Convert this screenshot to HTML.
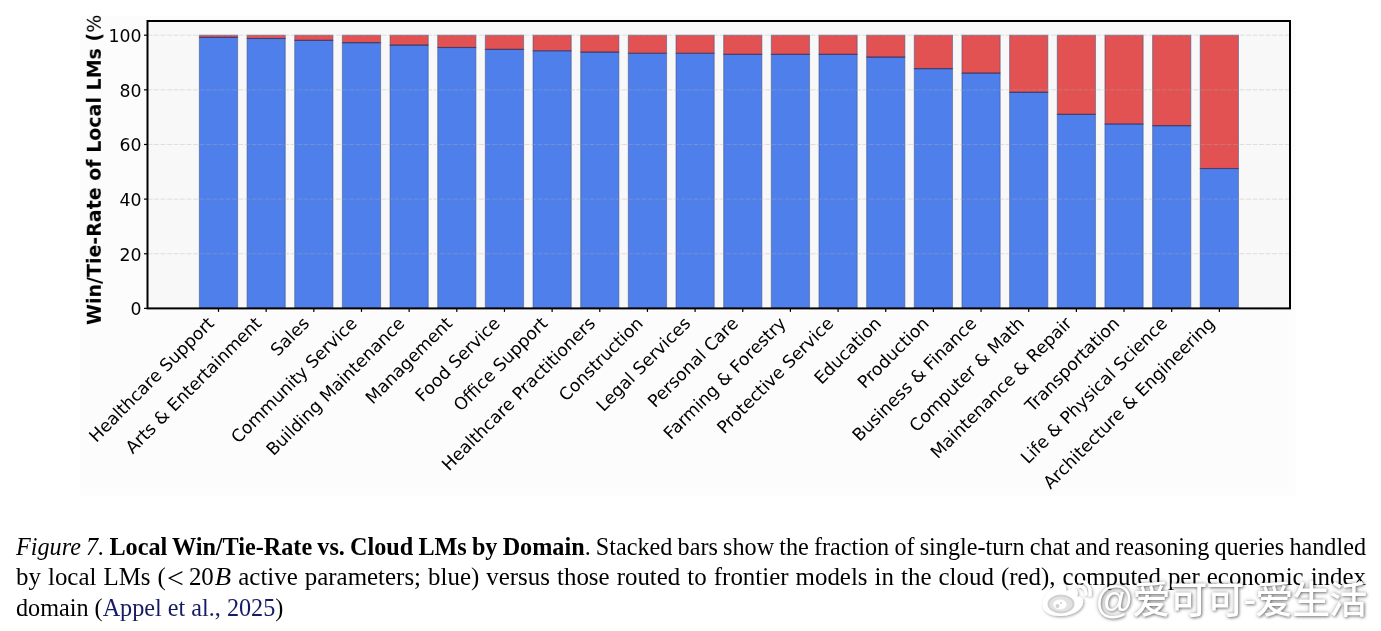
<!DOCTYPE html>
<html><head><meta charset="utf-8"><title>Figure 7</title><style>
*{margin:0;padding:0;box-sizing:border-box}
html,body{width:1381px;height:631px;overflow:hidden;background:#fff}
body{position:relative}
#wrap{position:absolute;left:0;top:0;width:1381px;height:631px;will-change:transform}
.fig{position:absolute;left:0;top:0}
.tk{font-family:"DejaVu Sans",sans-serif;font-size:17.3px;fill:#000}
.xl{font-family:"DejaVu Sans",sans-serif;font-size:17.3px;fill:#000}
.yl{font-family:"DejaVu Sans",sans-serif;font-weight:bold;font-size:19.0px;fill:#000}
.cap{position:absolute;left:16px;width:1350px;font-family:"Liberation Serif","Times New Roman",serif;font-size:24.2px;color:#000;white-space:nowrap}
.cap.j{text-align:justify;text-align-last:justify}
.cap b{font-weight:bold}
.cap i{font-style:italic}
.nb{display:inline-block}
.l2{width:1310.7px;transform:scaleX(1.03);transform-origin:0 0}
.lt{font-size:29px;line-height:0;margin:0 5px 0 1px;position:relative;top:2.5px}
.mb{font-size:26px;line-height:0;margin-left:1px}
.cite{color:#161c62}
.wm{position:absolute;left:1095px;top:577px;font-family:"Liberation Sans","Noto Sans CJK SC",sans-serif;font-weight:500;font-size:38px;line-height:46px;letter-spacing:-1px;color:#fff;text-shadow:1px 1px 3px rgba(0,0,0,0.45),0 0 4px rgba(0,0,0,0.3);white-space:nowrap}
.wlogo{position:absolute;left:1036px;top:570px}
</style></head>
<body><div id="wrap">
<svg class="fig" width="1381" height="500" viewBox="0 0 1381 500">
<rect x="80" y="16" width="1215.5" height="479.5" fill="#fcfcfc"/>
<rect x="147.5" y="21.0" width="1142.5" height="287.4" fill="#f8f8f8"/>
<rect x="199.40" y="37.39" width="38.2" height="271.01" fill="#4f7fea" stroke="#3d4f80" stroke-width="1.1" stroke-opacity="0.5"/>
<rect x="199.40" y="35.20" width="38.2" height="2.19" fill="#e25252" stroke="#3d4f80" stroke-width="1.1" stroke-opacity="0.5"/>
<line x1="199.40" y1="37.39" x2="237.60" y2="37.39" stroke="#2e2a5c" stroke-opacity="0.6" stroke-width="1.2"/>
<rect x="247.06" y="38.48" width="38.2" height="269.92" fill="#4f7fea" stroke="#3d4f80" stroke-width="1.1" stroke-opacity="0.5"/>
<rect x="247.06" y="35.20" width="38.2" height="3.28" fill="#e25252" stroke="#3d4f80" stroke-width="1.1" stroke-opacity="0.5"/>
<line x1="247.06" y1="38.48" x2="285.26" y2="38.48" stroke="#2e2a5c" stroke-opacity="0.6" stroke-width="1.2"/>
<rect x="294.72" y="40.39" width="38.2" height="268.01" fill="#4f7fea" stroke="#3d4f80" stroke-width="1.1" stroke-opacity="0.5"/>
<rect x="294.72" y="35.20" width="38.2" height="5.19" fill="#e25252" stroke="#3d4f80" stroke-width="1.1" stroke-opacity="0.5"/>
<line x1="294.72" y1="40.39" x2="332.92" y2="40.39" stroke="#2e2a5c" stroke-opacity="0.6" stroke-width="1.2"/>
<rect x="342.38" y="42.58" width="38.2" height="265.82" fill="#4f7fea" stroke="#3d4f80" stroke-width="1.1" stroke-opacity="0.5"/>
<rect x="342.38" y="35.20" width="38.2" height="7.38" fill="#e25252" stroke="#3d4f80" stroke-width="1.1" stroke-opacity="0.5"/>
<line x1="342.38" y1="42.58" x2="380.58" y2="42.58" stroke="#2e2a5c" stroke-opacity="0.6" stroke-width="1.2"/>
<rect x="390.04" y="45.04" width="38.2" height="263.36" fill="#4f7fea" stroke="#3d4f80" stroke-width="1.1" stroke-opacity="0.5"/>
<rect x="390.04" y="35.20" width="38.2" height="9.84" fill="#e25252" stroke="#3d4f80" stroke-width="1.1" stroke-opacity="0.5"/>
<line x1="390.04" y1="45.04" x2="428.24" y2="45.04" stroke="#2e2a5c" stroke-opacity="0.6" stroke-width="1.2"/>
<rect x="437.70" y="47.49" width="38.2" height="260.91" fill="#4f7fea" stroke="#3d4f80" stroke-width="1.1" stroke-opacity="0.5"/>
<rect x="437.70" y="35.20" width="38.2" height="12.29" fill="#e25252" stroke="#3d4f80" stroke-width="1.1" stroke-opacity="0.5"/>
<line x1="437.70" y1="47.49" x2="475.90" y2="47.49" stroke="#2e2a5c" stroke-opacity="0.6" stroke-width="1.2"/>
<rect x="485.36" y="49.41" width="38.2" height="258.99" fill="#4f7fea" stroke="#3d4f80" stroke-width="1.1" stroke-opacity="0.5"/>
<rect x="485.36" y="35.20" width="38.2" height="14.21" fill="#e25252" stroke="#3d4f80" stroke-width="1.1" stroke-opacity="0.5"/>
<line x1="485.36" y1="49.41" x2="523.56" y2="49.41" stroke="#2e2a5c" stroke-opacity="0.6" stroke-width="1.2"/>
<rect x="533.02" y="50.77" width="38.2" height="257.63" fill="#4f7fea" stroke="#3d4f80" stroke-width="1.1" stroke-opacity="0.5"/>
<rect x="533.02" y="35.20" width="38.2" height="15.57" fill="#e25252" stroke="#3d4f80" stroke-width="1.1" stroke-opacity="0.5"/>
<line x1="533.02" y1="50.77" x2="571.22" y2="50.77" stroke="#2e2a5c" stroke-opacity="0.6" stroke-width="1.2"/>
<rect x="580.68" y="52.14" width="38.2" height="256.26" fill="#4f7fea" stroke="#3d4f80" stroke-width="1.1" stroke-opacity="0.5"/>
<rect x="580.68" y="35.20" width="38.2" height="16.94" fill="#e25252" stroke="#3d4f80" stroke-width="1.1" stroke-opacity="0.5"/>
<line x1="580.68" y1="52.14" x2="618.88" y2="52.14" stroke="#2e2a5c" stroke-opacity="0.6" stroke-width="1.2"/>
<rect x="628.34" y="53.23" width="38.2" height="255.17" fill="#4f7fea" stroke="#3d4f80" stroke-width="1.1" stroke-opacity="0.5"/>
<rect x="628.34" y="35.20" width="38.2" height="18.03" fill="#e25252" stroke="#3d4f80" stroke-width="1.1" stroke-opacity="0.5"/>
<line x1="628.34" y1="53.23" x2="666.54" y2="53.23" stroke="#2e2a5c" stroke-opacity="0.6" stroke-width="1.2"/>
<rect x="676.00" y="53.23" width="38.2" height="255.17" fill="#4f7fea" stroke="#3d4f80" stroke-width="1.1" stroke-opacity="0.5"/>
<rect x="676.00" y="35.20" width="38.2" height="18.03" fill="#e25252" stroke="#3d4f80" stroke-width="1.1" stroke-opacity="0.5"/>
<line x1="676.00" y1="53.23" x2="714.20" y2="53.23" stroke="#2e2a5c" stroke-opacity="0.6" stroke-width="1.2"/>
<rect x="723.66" y="54.32" width="38.2" height="254.08" fill="#4f7fea" stroke="#3d4f80" stroke-width="1.1" stroke-opacity="0.5"/>
<rect x="723.66" y="35.20" width="38.2" height="19.12" fill="#e25252" stroke="#3d4f80" stroke-width="1.1" stroke-opacity="0.5"/>
<line x1="723.66" y1="54.32" x2="761.86" y2="54.32" stroke="#2e2a5c" stroke-opacity="0.6" stroke-width="1.2"/>
<rect x="771.32" y="54.32" width="38.2" height="254.08" fill="#4f7fea" stroke="#3d4f80" stroke-width="1.1" stroke-opacity="0.5"/>
<rect x="771.32" y="35.20" width="38.2" height="19.12" fill="#e25252" stroke="#3d4f80" stroke-width="1.1" stroke-opacity="0.5"/>
<line x1="771.32" y1="54.32" x2="809.52" y2="54.32" stroke="#2e2a5c" stroke-opacity="0.6" stroke-width="1.2"/>
<rect x="818.98" y="54.32" width="38.2" height="254.08" fill="#4f7fea" stroke="#3d4f80" stroke-width="1.1" stroke-opacity="0.5"/>
<rect x="818.98" y="35.20" width="38.2" height="19.12" fill="#e25252" stroke="#3d4f80" stroke-width="1.1" stroke-opacity="0.5"/>
<line x1="818.98" y1="54.32" x2="857.18" y2="54.32" stroke="#2e2a5c" stroke-opacity="0.6" stroke-width="1.2"/>
<rect x="866.64" y="57.06" width="38.2" height="251.34" fill="#4f7fea" stroke="#3d4f80" stroke-width="1.1" stroke-opacity="0.5"/>
<rect x="866.64" y="35.20" width="38.2" height="21.86" fill="#e25252" stroke="#3d4f80" stroke-width="1.1" stroke-opacity="0.5"/>
<line x1="866.64" y1="57.06" x2="904.84" y2="57.06" stroke="#2e2a5c" stroke-opacity="0.6" stroke-width="1.2"/>
<rect x="914.30" y="68.53" width="38.2" height="239.87" fill="#4f7fea" stroke="#3d4f80" stroke-width="1.1" stroke-opacity="0.5"/>
<rect x="914.30" y="35.20" width="38.2" height="33.33" fill="#e25252" stroke="#3d4f80" stroke-width="1.1" stroke-opacity="0.5"/>
<line x1="914.30" y1="68.53" x2="952.50" y2="68.53" stroke="#2e2a5c" stroke-opacity="0.6" stroke-width="1.2"/>
<rect x="961.96" y="73.17" width="38.2" height="235.23" fill="#4f7fea" stroke="#3d4f80" stroke-width="1.1" stroke-opacity="0.5"/>
<rect x="961.96" y="35.20" width="38.2" height="37.97" fill="#e25252" stroke="#3d4f80" stroke-width="1.1" stroke-opacity="0.5"/>
<line x1="961.96" y1="73.17" x2="1000.16" y2="73.17" stroke="#2e2a5c" stroke-opacity="0.6" stroke-width="1.2"/>
<rect x="1009.62" y="92.30" width="38.2" height="216.10" fill="#4f7fea" stroke="#3d4f80" stroke-width="1.1" stroke-opacity="0.5"/>
<rect x="1009.62" y="35.20" width="38.2" height="57.10" fill="#e25252" stroke="#3d4f80" stroke-width="1.1" stroke-opacity="0.5"/>
<line x1="1009.62" y1="92.30" x2="1047.82" y2="92.30" stroke="#2e2a5c" stroke-opacity="0.6" stroke-width="1.2"/>
<rect x="1057.28" y="114.43" width="38.2" height="193.97" fill="#4f7fea" stroke="#3d4f80" stroke-width="1.1" stroke-opacity="0.5"/>
<rect x="1057.28" y="35.20" width="38.2" height="79.23" fill="#e25252" stroke="#3d4f80" stroke-width="1.1" stroke-opacity="0.5"/>
<line x1="1057.28" y1="114.43" x2="1095.48" y2="114.43" stroke="#2e2a5c" stroke-opacity="0.6" stroke-width="1.2"/>
<rect x="1104.94" y="123.99" width="38.2" height="184.41" fill="#4f7fea" stroke="#3d4f80" stroke-width="1.1" stroke-opacity="0.5"/>
<rect x="1104.94" y="35.20" width="38.2" height="88.79" fill="#e25252" stroke="#3d4f80" stroke-width="1.1" stroke-opacity="0.5"/>
<line x1="1104.94" y1="123.99" x2="1143.14" y2="123.99" stroke="#2e2a5c" stroke-opacity="0.6" stroke-width="1.2"/>
<rect x="1152.60" y="125.63" width="38.2" height="182.77" fill="#4f7fea" stroke="#3d4f80" stroke-width="1.1" stroke-opacity="0.5"/>
<rect x="1152.60" y="35.20" width="38.2" height="90.43" fill="#e25252" stroke="#3d4f80" stroke-width="1.1" stroke-opacity="0.5"/>
<line x1="1152.60" y1="125.63" x2="1190.80" y2="125.63" stroke="#2e2a5c" stroke-opacity="0.6" stroke-width="1.2"/>
<rect x="1200.26" y="168.52" width="38.2" height="139.88" fill="#4f7fea" stroke="#3d4f80" stroke-width="1.1" stroke-opacity="0.5"/>
<rect x="1200.26" y="35.20" width="38.2" height="133.32" fill="#e25252" stroke="#3d4f80" stroke-width="1.1" stroke-opacity="0.5"/>
<line x1="1200.26" y1="168.52" x2="1238.46" y2="168.52" stroke="#2e2a5c" stroke-opacity="0.6" stroke-width="1.2"/>
<line x1="147.5" y1="308.40" x2="1290.0" y2="308.40" stroke="#b0b0b0" stroke-opacity="0.35" stroke-width="1" stroke-dasharray="5 1.5"/>
<line x1="147.5" y1="253.76" x2="1290.0" y2="253.76" stroke="#b0b0b0" stroke-opacity="0.35" stroke-width="1" stroke-dasharray="5 1.5"/>
<line x1="147.5" y1="199.12" x2="1290.0" y2="199.12" stroke="#b0b0b0" stroke-opacity="0.35" stroke-width="1" stroke-dasharray="5 1.5"/>
<line x1="147.5" y1="144.48" x2="1290.0" y2="144.48" stroke="#b0b0b0" stroke-opacity="0.35" stroke-width="1" stroke-dasharray="5 1.5"/>
<line x1="147.5" y1="89.84" x2="1290.0" y2="89.84" stroke="#b0b0b0" stroke-opacity="0.35" stroke-width="1" stroke-dasharray="5 1.5"/>
<line x1="147.5" y1="35.20" x2="1290.0" y2="35.20" stroke="#b0b0b0" stroke-opacity="0.35" stroke-width="1" stroke-dasharray="5 1.5"/>
<rect x="147.5" y="21.0" width="1142.5" height="287.4" fill="none" stroke="#000" stroke-width="2"/>
<line x1="144.0" y1="308.40" x2="147.5" y2="308.40" stroke="#000" stroke-width="1.2"/>
<text x="141.5" y="315.40" text-anchor="end" class="tk">0</text>
<line x1="144.0" y1="253.76" x2="147.5" y2="253.76" stroke="#000" stroke-width="1.2"/>
<text x="141.5" y="260.76" text-anchor="end" class="tk">20</text>
<line x1="144.0" y1="199.12" x2="147.5" y2="199.12" stroke="#000" stroke-width="1.2"/>
<text x="141.5" y="206.12" text-anchor="end" class="tk">40</text>
<line x1="144.0" y1="144.48" x2="147.5" y2="144.48" stroke="#000" stroke-width="1.2"/>
<text x="141.5" y="151.48" text-anchor="end" class="tk">60</text>
<line x1="144.0" y1="89.84" x2="147.5" y2="89.84" stroke="#000" stroke-width="1.2"/>
<text x="141.5" y="96.84" text-anchor="end" class="tk">80</text>
<line x1="144.0" y1="35.20" x2="147.5" y2="35.20" stroke="#000" stroke-width="1.2"/>
<text x="141.5" y="42.20" text-anchor="end" class="tk">100</text>
<line x1="218.50" y1="308.4" x2="218.50" y2="311.9" stroke="#000" stroke-width="1.2"/>
<text x="215.00" y="324.40" text-anchor="end" transform="rotate(-45 215.00 324.40)" class="xl">Healthcare Support</text>
<line x1="266.16" y1="308.4" x2="266.16" y2="311.9" stroke="#000" stroke-width="1.2"/>
<text x="262.66" y="324.40" text-anchor="end" transform="rotate(-45 262.66 324.40)" class="xl">Arts &amp; Entertainment</text>
<line x1="313.82" y1="308.4" x2="313.82" y2="311.9" stroke="#000" stroke-width="1.2"/>
<text x="310.32" y="324.40" text-anchor="end" transform="rotate(-45 310.32 324.40)" class="xl">Sales</text>
<line x1="361.48" y1="308.4" x2="361.48" y2="311.9" stroke="#000" stroke-width="1.2"/>
<text x="357.98" y="324.40" text-anchor="end" transform="rotate(-45 357.98 324.40)" class="xl">Community Service</text>
<line x1="409.14" y1="308.4" x2="409.14" y2="311.9" stroke="#000" stroke-width="1.2"/>
<text x="405.64" y="324.40" text-anchor="end" transform="rotate(-45 405.64 324.40)" class="xl">Building Maintenance</text>
<line x1="456.80" y1="308.4" x2="456.80" y2="311.9" stroke="#000" stroke-width="1.2"/>
<text x="453.30" y="324.40" text-anchor="end" transform="rotate(-45 453.30 324.40)" class="xl">Management</text>
<line x1="504.46" y1="308.4" x2="504.46" y2="311.9" stroke="#000" stroke-width="1.2"/>
<text x="500.96" y="324.40" text-anchor="end" transform="rotate(-45 500.96 324.40)" class="xl">Food Service</text>
<line x1="552.12" y1="308.4" x2="552.12" y2="311.9" stroke="#000" stroke-width="1.2"/>
<text x="548.62" y="324.40" text-anchor="end" transform="rotate(-45 548.62 324.40)" class="xl">Office Support</text>
<line x1="599.78" y1="308.4" x2="599.78" y2="311.9" stroke="#000" stroke-width="1.2"/>
<text x="596.28" y="324.40" text-anchor="end" transform="rotate(-45 596.28 324.40)" class="xl">Healthcare Practitioners</text>
<line x1="647.44" y1="308.4" x2="647.44" y2="311.9" stroke="#000" stroke-width="1.2"/>
<text x="643.94" y="324.40" text-anchor="end" transform="rotate(-45 643.94 324.40)" class="xl">Construction</text>
<line x1="695.10" y1="308.4" x2="695.10" y2="311.9" stroke="#000" stroke-width="1.2"/>
<text x="691.60" y="324.40" text-anchor="end" transform="rotate(-45 691.60 324.40)" class="xl">Legal Services</text>
<line x1="742.76" y1="308.4" x2="742.76" y2="311.9" stroke="#000" stroke-width="1.2"/>
<text x="739.26" y="324.40" text-anchor="end" transform="rotate(-45 739.26 324.40)" class="xl">Personal Care</text>
<line x1="790.42" y1="308.4" x2="790.42" y2="311.9" stroke="#000" stroke-width="1.2"/>
<text x="786.92" y="324.40" text-anchor="end" transform="rotate(-45 786.92 324.40)" class="xl">Farming &amp; Forestry</text>
<line x1="838.08" y1="308.4" x2="838.08" y2="311.9" stroke="#000" stroke-width="1.2"/>
<text x="834.58" y="324.40" text-anchor="end" transform="rotate(-45 834.58 324.40)" class="xl">Protective Service</text>
<line x1="885.74" y1="308.4" x2="885.74" y2="311.9" stroke="#000" stroke-width="1.2"/>
<text x="882.24" y="324.40" text-anchor="end" transform="rotate(-45 882.24 324.40)" class="xl">Education</text>
<line x1="933.40" y1="308.4" x2="933.40" y2="311.9" stroke="#000" stroke-width="1.2"/>
<text x="929.90" y="324.40" text-anchor="end" transform="rotate(-45 929.90 324.40)" class="xl">Production</text>
<line x1="981.06" y1="308.4" x2="981.06" y2="311.9" stroke="#000" stroke-width="1.2"/>
<text x="977.56" y="324.40" text-anchor="end" transform="rotate(-45 977.56 324.40)" class="xl">Business &amp; Finance</text>
<line x1="1028.72" y1="308.4" x2="1028.72" y2="311.9" stroke="#000" stroke-width="1.2"/>
<text x="1025.22" y="324.40" text-anchor="end" transform="rotate(-45 1025.22 324.40)" class="xl">Computer &amp; Math</text>
<line x1="1076.38" y1="308.4" x2="1076.38" y2="311.9" stroke="#000" stroke-width="1.2"/>
<text x="1072.88" y="324.40" text-anchor="end" transform="rotate(-45 1072.88 324.40)" class="xl">Maintenance &amp; Repair</text>
<line x1="1124.04" y1="308.4" x2="1124.04" y2="311.9" stroke="#000" stroke-width="1.2"/>
<text x="1120.54" y="324.40" text-anchor="end" transform="rotate(-45 1120.54 324.40)" class="xl">Transportation</text>
<line x1="1171.70" y1="308.4" x2="1171.70" y2="311.9" stroke="#000" stroke-width="1.2"/>
<text x="1168.20" y="324.40" text-anchor="end" transform="rotate(-45 1168.20 324.40)" class="xl">Life &amp; Physical Science</text>
<line x1="1219.36" y1="308.4" x2="1219.36" y2="311.9" stroke="#000" stroke-width="1.2"/>
<text x="1215.86" y="324.40" text-anchor="end" transform="rotate(-45 1215.86 324.40)" class="xl">Architecture &amp; Engineering</text>
<text x="0" y="0" transform="translate(100.8 325.0) rotate(-90)" class="yl">Win/Tie-Rate of Local LMs (<tspan font-weight="normal">%</tspan></text>
</svg>
<div class="cap j" style="top:533px;word-spacing:-0.9px"><i>Figure 7.</i> <b>Local Win/Tie-Rate vs. Cloud LMs by Domain</b>. Stacked bars show the fraction of single-turn chat and reasoning queries handled</div>
<div class="cap j l2" style="top:563px">by local LMs <span class="nb">(<span class="lt">&lt;</span>20<i class="mb">B</i></span> active parameters; blue) versus those routed to frontier models in the cloud (red), computed per economic index</div>
<div class="cap" style="top:594px">domain (<span class="cite">Appel et al., 2025</span>)</div>
<svg class="wlogo" width="62" height="56" viewBox="0 0 62 56">
<defs><filter id="sh" x="-20%" y="-20%" width="140%" height="140%"><feDropShadow dx="1" dy="1" stdDeviation="1.5" flood-color="#000" flood-opacity="0.4"/></filter></defs>
<g filter="url(#sh)">
<path d="M24 14 C17 16 9 24 7 32 C5 40 12 46 24 46 C36 46 46 40 47 33 C48 28 44 26 41 27 C43 22 41 18 36 19 C33 20 31 21 30 21 C31 16 28 13 24 14 Z" fill="#fff"/>
<path d="M43 16 C47 16 50 19 50 24" fill="none" stroke="#fff" stroke-width="3" stroke-linecap="round"/>
<path d="M43 11 C50 11 55 16 54 25" fill="none" stroke="#fff" stroke-width="3" stroke-linecap="round"/>
</g>
<ellipse cx="25" cy="34" rx="12.5" ry="8.5" fill="#e2e2e2" stroke="#d0d0d0" stroke-width="2"/>
<ellipse cx="24" cy="34.5" rx="7" ry="5.4" fill="#fff" stroke="#e6e6e6" stroke-width="1"/>
<circle cx="21.5" cy="36" r="2" fill="#d0d0d0"/>
<circle cx="25" cy="33" r="0.9" fill="#c8c8c8"/>
</svg>
<div class="wm">@爱可可-爱生活</div>
</div></body></html>
